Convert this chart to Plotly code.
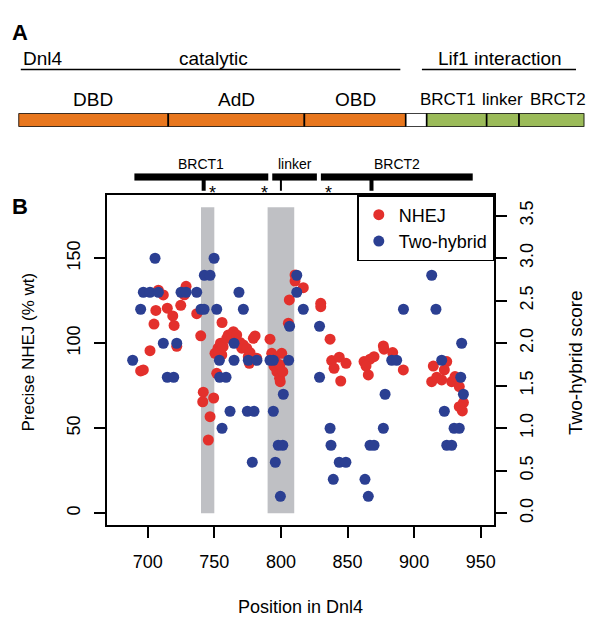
import plotly.graph_objects as go

W, H = 600, 624
FONT = "Liberation Sans, Arial, Helvetica, sans-serif"

# ---------------- data ----------------
# Panel A: Dnl4 domain map (residue coordinates)
a_names = ["DBD", "AdD", "OBD", "", "BRCT1", "linker", "BRCT2"]
a_start = [0, 250, 477, 646, 681, 781, 835]
a_end = [250, 477, 646, 681, 781, 835, 944]
a_kind = ["cat", "cat", "cat", "gap", "lif", "lif", "lif"]
a_groups = ["catalytic", "Lif1 interaction"]
a_group_start = [4, 673]
a_group_end = [637, 930]

# Panel B header domains
b_names = ["BRCT1", "linker", "BRCT2"]
b_start = [690, 793.5, 830]
b_end = [790.5, 827, 944]
mark_pos = [742, 800, 868]
mark_major = [True, False, True]
star_pos = [749, 788, 835.5]

# shaded regions
band_start = [740, 790]
band_end = [750, 810]
band_top = 180

# NHEJ (% wt)
nhej_x = [694.7, 696.7, 701.7, 704.7, 706.1, 708.0, 711.7, 714.7, 718.8, 719.8,
          721.8, 724.8, 727.5, 728.8, 736.8, 739.8, 741.7, 741.3, 745.5, 746.8,
          749.5, 750.5, 751.8, 752.8, 753.5, 754.6, 755.6, 756.6, 755.8, 759.3,
          760.5, 763.0, 764.3, 766.8, 769.3, 770.6, 771.8, 774.3, 775.5, 776.3,
          776.8, 779.3, 780.6, 781.8, 791.8, 793.1, 794.8, 795.6, 797.0, 799.3,
          799.0, 800.6, 801.4, 799.5, 805.6, 806.3, 810.6, 810.6, 816.8, 829.9,
          829.9, 836.9, 838.1, 843.8, 848.9, 839.9, 844.9, 862.4, 866.9, 869.9,
          863.9, 865.6, 876.9, 877.4, 883.9, 891.9, 914.4, 924.5, 922.7, 913.2,
          917.0, 920.7, 928.2, 930.7, 933.9, 937.0, 933.9, 936.2]
nhej_y = [83.7, 84.3, 95.6, 111.3, 119.3, 131.2, 128.4, 120.6, 116.1, 110.5,
          98.2, 122.3, 128.5, 133.5, 117.4, 104.4, 71.2, 65.6, 43.1, 56.8,
          67.8, 94.1, 82.3, 97.1, 95.0, 100.0, 93.1, 98.0, 112.2, 102.9,
          104.9, 103.9, 106.8, 104.9, 100.5, 97.1, 99.0, 97.1, 92.1, 88.2,
          94.5, 102.9, 104.3, 91.2, 102.4, 94.1, 86.6, 90.2, 83.3, 87.3,
          79.4, 94.1, 83.3, 77.4, 111.8, 125.5, 140.2, 136.6, 132.7, 123.5,
          121.5, 102.4, 89.8, 91.8, 88.2, 85.3, 77.8, 89.2, 90.6, 92.1,
          86.6, 81.4, 98.4, 96.5, 94.5, 84.3, 86.6, 89.2, 84.3, 77.4,
          80.0, 78.4, 77.4, 80.4, 74.5, 65.1, 62.7, 60.2]

# Two-hybrid score
th_x = [705.5, 749.8, 742.5, 746.8, 696.7, 701.7, 708.0, 725.0, 728.8, 736.8,
        768.5, 694.7, 740.0, 742.3, 751.8, 771.8, 806.5, 711.7, 721.8, 764.8,
        688.7, 753.8, 764.8, 775.5, 782.0, 791.8, 794.3, 805.8, 714.7, 719.5,
        754.0, 758.8, 801.8, 761.8, 774.8, 779.8, 794.3, 755.8, 798.0, 801.4,
        778.5, 795.8, 799.6, 811.9, 811.9, 816.8, 829.0, 829.0, 935.7, 883.2,
        886.9, 920.7, 935.0, 878.2, 937.0, 922.7, 836.9, 876.9, 930.0, 933.9,
        837.6, 866.9, 869.9, 924.5, 928.2, 843.8, 848.8, 839.3, 863.1, 865.6,
        913.2, 892.0, 916.4]
th_y = [3.0, 3.0, 2.8, 2.8, 2.6, 2.6, 2.6, 2.6, 2.6, 2.6,
        2.6, 2.4, 2.4, 2.4, 2.4, 2.4, 2.2, 2.0, 2.0, 2.0,
        1.8, 1.8, 1.8, 1.8, 1.8, 1.8, 1.8, 1.8, 1.6, 1.6,
        1.6, 1.6, 1.4, 1.2, 1.2, 1.2, 1.2, 1.0, 0.8, 0.8,
        0.6, 0.6, 0.2, 2.8, 2.6, 2.4, 2.2, 1.6, 2.0, 1.8,
        1.8, 1.8, 1.6, 1.4, 1.4, 1.2, 1.0, 1.0, 1.0, 1.0,
        0.8, 0.8, 0.8, 0.8, 0.8, 0.6, 0.6, 0.4, 0.4, 0.2,
        2.8, 2.4, 2.4]

x_ticks = [700, 750, 800, 850, 900, 950]
y_ticks = [0, 50, 100, 150]
y2_ticks = [0, 0.5, 1.0, 1.5, 2.0, 2.5, 3.0, 3.5]

# ---------------- style ----------------
ORANGE = "#E8771E"
GREEN = "#9BBB59"
RED = "#E3302C"
BLUE = "#2B3F92"
GRAY = "#BFC0C4"


def pxx(px):
    return px / W


def pyy(py):
    return 1 - py / H


def txt(x, y, text, size, xref="paper", yref="paper", angle=0, xanchor="center"):
    return dict(x=x, y=y, xref=xref, yref=yref, text=text, showarrow=False,
                xanchor=xanchor, yanchor="middle", textangle=angle,
                font=dict(size=size, color="black", family=FONT))


# plot box (pixels)
L, R, T, B = 106.7, 494.3, 195.0, 525.0
XR = [669.2, 960.2]
YR = [-6.9, 187.2]
Y2R = [YR[0] / 50.0, YR[1] / 50.0]

fig = go.Figure()

# Panel A bar (horizontal segments)
kind_color = {"cat": ORANGE, "gap": "#FFFFFF", "lif": GREEN}
fig.add_trace(go.Bar(
    y=[0] * len(a_start), x=[e - s for s, e in zip(a_start, a_end)], base=a_start,
    orientation="h", width=1,
    marker=dict(color=[kind_color[k] for k in a_kind], line=dict(color="black", width=1.6)),
    xaxis="x3", yaxis="y3", showlegend=False, hoverinfo="skip"))

# Panel B header bars
fig.add_trace(go.Bar(
    y=[0] * len(b_start), x=[e - s for s, e in zip(b_start, b_end)], base=b_start,
    orientation="h", width=1, marker=dict(color="black", line=dict(width=0)),
    xaxis="x", yaxis="y4", showlegend=False, hoverinfo="skip"))

# scatter points
fig.add_trace(go.Scatter(x=nhej_x, y=nhej_y, mode="markers", name="NHEJ",
                         marker=dict(color=RED, size=11, line=dict(width=0)),
                         xaxis="x", yaxis="y"))
fig.add_trace(go.Scatter(x=th_x, y=th_y, mode="markers", name="Two-hybrid",
                         marker=dict(color=BLUE, size=11, line=dict(width=0)),
                         xaxis="x", yaxis="y2"))

shapes = []
annotations = []

# gray bands
for s, e in zip(band_start, band_end):
    shapes.append(dict(type="rect", xref="x", yref="y", x0=s, x1=e, y0=0, y1=band_top,
                       fillcolor=GRAY, line=dict(width=0), layer="below"))

# Panel B header ticks / asterisks / labels
for p, major in zip(mark_pos, mark_major):
    shapes.append(dict(type="line", xref="x", yref="paper", x0=p, x1=p,
                       y0=pyy(180.0), y1=pyy(190.7),
                       line=dict(color="black", width=4 if major else 2)))
for p in star_pos:
    annotations.append(txt(p, pyy(193.0), "*", 18, xref="x"))
for n, s, e in zip(b_names, b_start, b_end):
    annotations.append(txt((s + e) / 2, pyy(163.5), n, 14, xref="x"))

# Panel A labels
label_shift = {"BRCT1": -15, "BRCT2": 11}
for n, s, e in zip(a_names, a_start, a_end):
    if n:
        annotations.append(txt((s + e) / 2 + label_shift.get(n, 0), pyy(99.5), n,
                               19 if n in ("DBD", "AdD", "OBD") else 17, xref="x3"))
for g, s, e in zip(a_groups, a_group_start, a_group_end):
    shapes.append(dict(type="line", xref="x3", yref="paper", x0=s, x1=e,
                       y0=pyy(69.5), y1=pyy(69.5), line=dict(color="black", width=1.6)))
    annotations.append(txt((s + e) / 2 + (2 if g == "Lif1 interaction" else 5), pyy(58.5),
                           g, 19, xref="x3"))
annotations.append(txt(a_group_start[0], pyy(58.5), "Dnl4", 19, xref="x3", xanchor="left"))

# panel letters
annotations.append(txt(pxx(19.5), pyy(32), "<b>A</b>", 22))
annotations.append(txt(pxx(19.5), pyy(207), "<b>B</b>", 22))

# axis titles
annotations.append(txt(pxx(300.5), pyy(606.5), "Position in Dnl4", 18))
annotations.append(txt(pxx(28), pyy(352.5), "Precise NHEJ (% wt)", 17, angle=-90))
annotations.append(txt(pxx(575), pyy(363), "Two-hybrid score", 19, angle=-90))

axis_common = dict(showgrid=False, zeroline=False, ticks="outside", ticklen=11,
                   tickwidth=1.5, tickcolor="black", linecolor="black", linewidth=1.5,
                   tickfont=dict(size=18, color="black", family=FONT))

fig.update_layout(
    width=W, height=H, margin=dict(l=0, r=0, t=0, b=0),
    paper_bgcolor="white", plot_bgcolor="white",
    font=dict(family=FONT, color="black"),
    xaxis=dict(domain=[pxx(L), pxx(R)], range=XR, tickvals=x_ticks, showline=True,
               mirror=True, anchor="y", ticklabelstandoff=9, **axis_common),
    yaxis=dict(domain=[pyy(B), pyy(T)], range=YR, tickvals=y_ticks, showline=True,
               mirror=True, anchor="x", tickangle=-90, ticklabelstandoff=7, **axis_common),
    yaxis2=dict(overlaying="y", side="right", range=Y2R, tickvals=y2_ticks,
                tickformat=".1f", showline=True, anchor="x", tickangle=-90,
                ticklabelstandoff=4, **axis_common),
    xaxis3=dict(domain=[pxx(18.4), pxx(584.4)], range=[0, 944], visible=False,
                anchor="y3", fixedrange=True),
    yaxis3=dict(domain=[pyy(126.7), pyy(113.3)], range=[-0.5, 0.5], visible=False,
                anchor="x3", fixedrange=True),
    yaxis4=dict(domain=[pyy(180.7), pyy(173.3)], range=[-0.5, 0.5], visible=False,
                anchor="x", fixedrange=True),
    barmode="overlay",
    shapes=shapes, annotations=annotations,
    legend=dict(x=pxx(R), xanchor="right", y=pyy(T), yanchor="top",
                bordercolor="black", borderwidth=1.5, bgcolor="white",
                font=dict(size=18, color="black", family=FONT),
                itemwidth=30, tracegroupgap=2),
)

fig.write_html("out.html", config={"displayModeBar": False},
               post_script="document.body.style.margin='0';document.body.style.overflow='hidden';")
